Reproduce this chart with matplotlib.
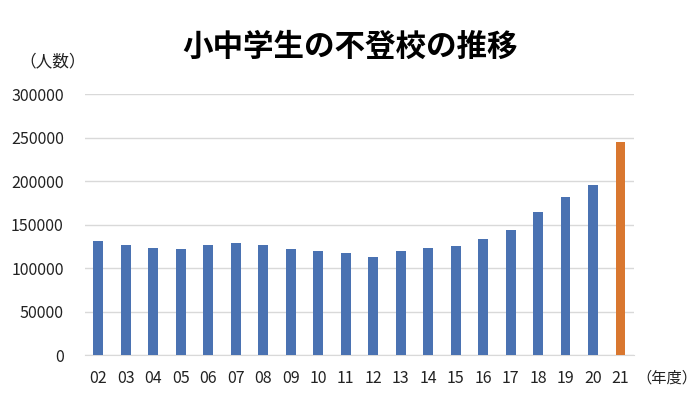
import matplotlib
matplotlib.use("Agg")
import matplotlib.pyplot as plt

plt.rcParams['font.family'] = ['Noto Sans CJK JP', 'DejaVu Sans']

years = ["02", "03", "04", "05", "06", "07", "08", "09", "10", "11",
         "12", "13", "14", "15", "16", "17", "18", "19", "20", "21"]
counts = [131252, 126226, 123358, 122287, 126894, 129255, 126805, 122432, 119891, 117458,
          112689, 119617, 122897, 125991, 133683, 144031, 164528, 181272, 196127, 244940]
yticks = [0, 50000, 100000, 150000, 200000, 250000, 300000]
title = "小中学生の不登校の推移"

blue = "#4A72B2"
orange = "#D9772F"
colors = [blue] * (len(years) - 1) + [orange]

fig = plt.figure(figsize=(7.0, 3.99), dpi=100)
ax = fig.add_axes([0.121, 0.110, 0.785, 0.654])

x = list(range(len(years)))
ax.bar(x, counts, width=0.36, color=colors, zorder=3)

ax.set_xlim(-0.5, len(years) - 0.5)
ax.set_ylim(0, 300000)
ax.set_yticks(yticks)
ax.set_yticklabels([str(v) for v in yticks])
ax.set_xticks(x)
ax.set_xticklabels(years)
ax.grid(axis='y', color='#D9D9D9', linewidth=1.0, zorder=0)
for s in ['top', 'right', 'left']:
    ax.spines[s].set_visible(False)
ax.spines['bottom'].set_color('#D9D9D9')
ax.tick_params(axis='both', length=0, labelsize=11.5, colors='#222222')
ax.tick_params(axis='y', pad=15)
ax.tick_params(axis='x', pad=11)

fig.text(0.5, 0.882, title, ha='center', va='center', fontsize=22, fontweight='bold')
fig.text(0.028, 0.845, "（人数）", ha='left', va='center', fontsize=12, color='#222222')
fig.text(0.996, 0.052, "（年度）", ha='right', va='center', fontsize=11, color='#222222')

fig.savefig("out.png", dpi=100)
